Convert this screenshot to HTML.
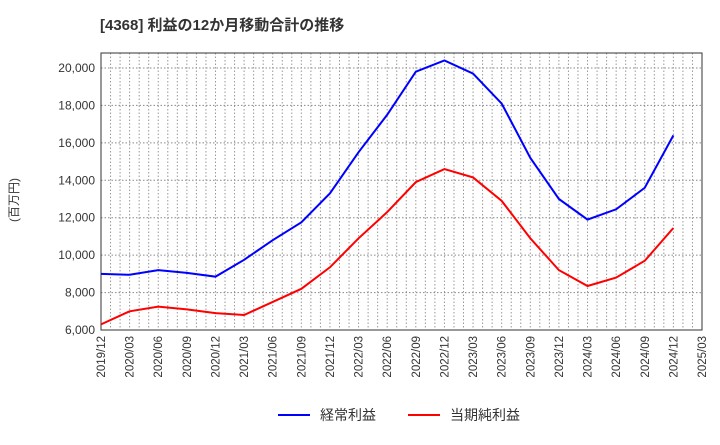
<!DOCTYPE html>
<html><head><meta charset="utf-8"><style>
body{margin:0;background:#fff;width:720px;height:440px;overflow:hidden}
svg text{font-family:"Liberation Sans","Noto Sans CJK JP",sans-serif}
</style></head><body>
<svg width="720" height="440">
<text x="100" y="30" font-size="15" font-weight="bold" fill="#333">[4368]  利益の12か月移動合計の推移</text>
<g id="grid"></g>
<g id="axes"></g>
<g id="series"></g>
<text transform="translate(18,200) rotate(-90)" font-size="12" fill="#333" text-anchor="middle">(百万円)</text>
<g>
<line x1="278" y1="415" x2="310" y2="415" stroke="#0000ff" stroke-width="2"/>
<text x="320" y="420" font-size="14" fill="#333">経常利益</text>
<line x1="408" y1="415" x2="440" y2="415" stroke="#ff0000" stroke-width="2"/>
<text x="450" y="420" font-size="14" fill="#333">当期純利益</text>
</g>
</svg>
<script>
const categories=["2019/12","2020/03","2020/06","2020/09","2020/12","2021/03","2021/06","2021/09","2021/12","2022/03","2022/06","2022/09","2022/12","2023/03","2023/06","2023/09","2023/12","2024/03","2024/06","2024/09","2024/12","2025/03"];
const keijo=[9000,8950,9200,9050,8850,9750,10800,11750,13300,15500,17500,19800,20400,19700,18100,15200,13000,11900,12450,13600,16400];
const junri=[6300,7000,7250,7100,6900,6800,7500,8200,9350,10900,12300,13900,14600,14150,12900,10900,9200,8350,8800,9700,11450];
const yTicks=[6000,8000,10000,12000,14000,16000,18000,20000];
const L=101,R=702,T=53,B=330,yMin=6000,yMax=20800;
const x=i=>L+(R-L)*i/(categories.length-1);
const y=v=>B-(B-T)*(v-yMin)/(yMax-yMin);
const NS="http://www.w3.org/2000/svg";
function mk(tag,attrs,parent){const e=document.createElementNS(NS,tag);for(const k in attrs)e.setAttribute(k,attrs[k]);parent.appendChild(e);return e;}
const grid=document.getElementById('grid'),axes=document.getElementById('axes'),series=document.getElementById('series');
for(let m=1;m<(categories.length-1)*3;m++){const xx=L+(R-L)*m/((categories.length-1)*3);
const g=mk('line',{x1:xx,x2:xx,y1:T,y2:B,stroke:'#999','stroke-dasharray':'1.5,2','stroke-width':1},grid);

}
yTicks.forEach(v=>{const g=mk('line',{x1:L,x2:R,y1:y(v),y2:y(v),stroke:'#888','stroke-dasharray':'1.5,2','stroke-width':1},grid);


const t=mk('text',{x:L-6,y:y(v)+4,'font-size':12,fill:'#333','text-anchor':'end'},axes);t.textContent=v.toLocaleString('en-US');

});
categories.forEach((c,i)=>{const t=mk('text',{transform:`translate(${x(i)+4},${B+6}) rotate(-90)`,'font-size':11.5,fill:'#333','text-anchor':'end'},axes);t.textContent=c;

});
const box=mk('rect',{x:L,y:T,width:R-L,height:B-T,fill:'none',stroke:'#333','stroke-width':1},axes);


[[keijo,'#0000ff','keijo-line'],[junri,'#ff0000','junri-line']].forEach(([d,c,n])=>{
const p=mk('polyline',{points:d.map((v,i)=>x(i)+','+y(v)).join(' '),fill:'none',stroke:c,'stroke-width':2},series);

});
</script>
</body></html>
